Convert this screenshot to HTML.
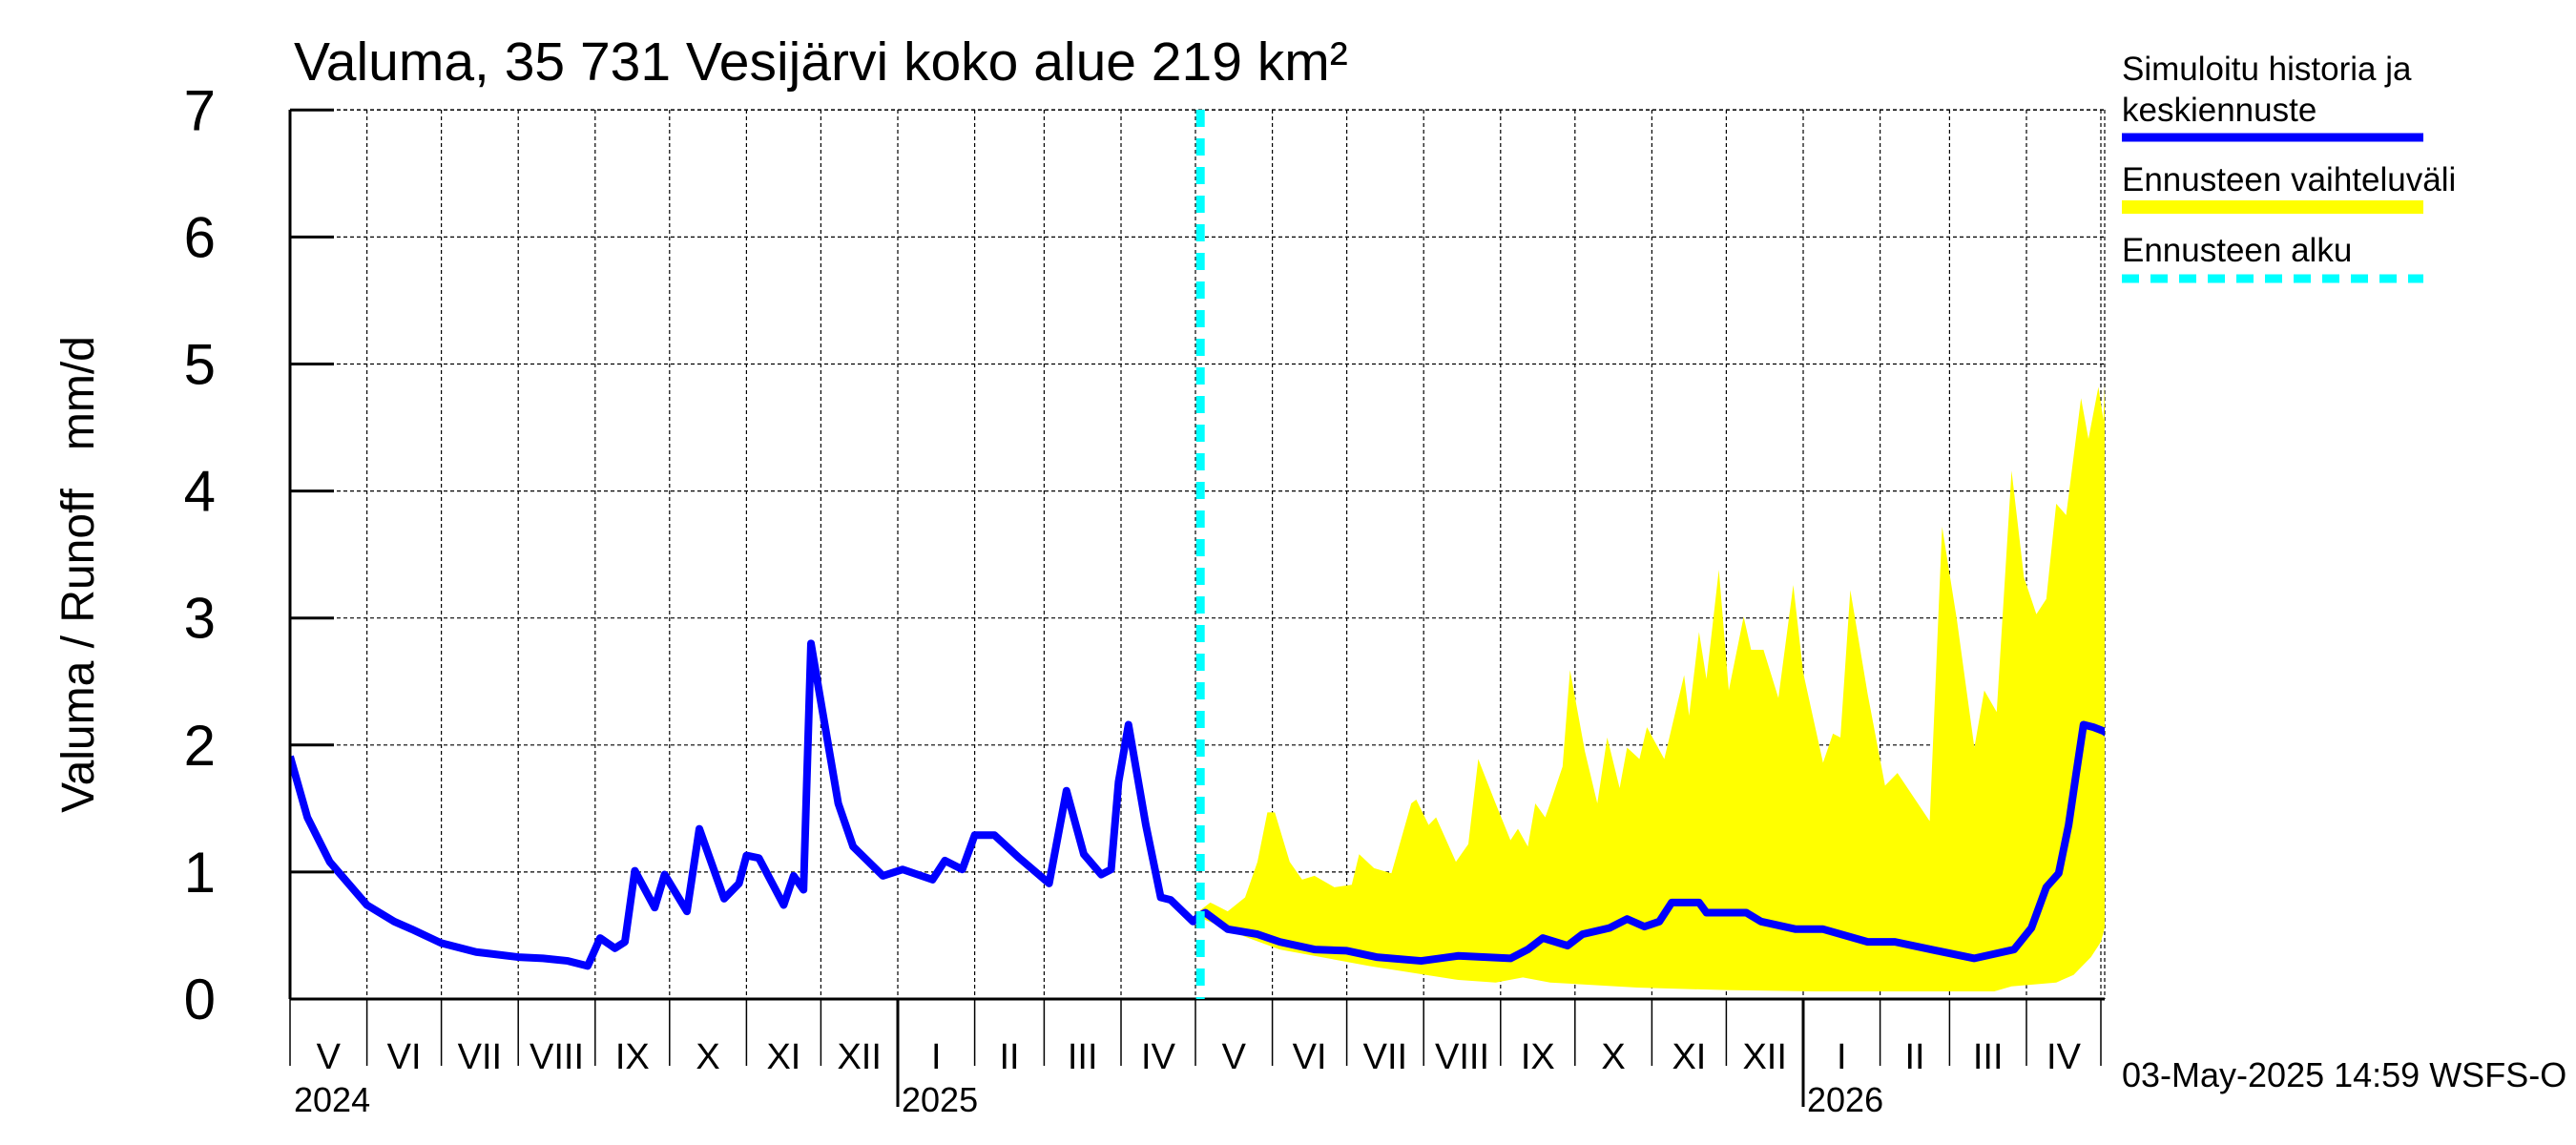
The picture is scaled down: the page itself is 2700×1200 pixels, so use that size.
<!DOCTYPE html>
<html><head><meta charset="utf-8"><style>
html,body{margin:0;padding:0;background:#fff;}
svg{display:block;font-family:"Liberation Sans",sans-serif;}
</style></head><body>
<svg id="chart" width="2700" height="1200" viewBox="0 0 2700 1200" xmlns="http://www.w3.org/2000/svg">
<defs><clipPath id="pc"><rect x="304" y="115" width="1902" height="932"/></clipPath></defs>
<g id="grid"></g>
<g id="band" clip-path="url(#pc)"></g>
<g id="lines" clip-path="url(#pc)"></g>
<g id="axes"></g>
<text x="308" y="84" font-size="57">Valuma, 35 731 Vesijärvi koko alue 219 km²</text>
<text transform="translate(98,602) rotate(-90)" text-anchor="middle" font-size="48" xml:space="preserve">Valuma / Runoff   mm/d</text>
<g font-size="35">
<text x="2224" y="84">Simuloitu historia ja</text>
<text x="2224" y="127">keskiennuste</text>
<line x1="2224" y1="144" x2="2540" y2="144" stroke="#0000ff" stroke-width="9"/>
<text x="2224" y="200">Ennusteen vaihteluväli</text>
<line x1="2224" y1="217" x2="2540" y2="217" stroke="#ffff00" stroke-width="14"/>
<text x="2224" y="274">Ennusteen alku</text>
<line x1="2224" y1="292" x2="2540" y2="292" stroke="#00ffff" stroke-width="9" stroke-dasharray="18,12"/>
</g>
<text x="2224" y="1139" font-size="36">03-May-2025 14:59 WSFS-O</text>
</svg>
<script>
const histDays=[0,7,16,31,42,49,61,75,92,102,112,120,125,131,135,139,147,151,160,165,175,181,184,189,199,203,207,210,214,221,227,239,247,259,264,271,276,284,294,306,313,320,327,331,334,338,345,351,355,364,367];
const histVals=[1.91,1.43,1.08,0.74,0.61,0.55,0.44,0.37,0.33,0.32,0.30,0.26,0.48,0.40,0.45,1.01,0.72,0.98,0.69,1.34,0.79,0.91,1.13,1.11,0.74,0.97,0.86,2.80,2.34,1.54,1.20,0.97,1.02,0.94,1.09,1.02,1.29,1.29,1.11,0.91,1.64,1.14,0.98,1.02,1.71,2.16,1.37,0.80,0.78,0.61,0.66];
const fcDays=[367,369,378,390,399,413,426,438,456,471,492,499,505,515,521,532,539,546,552,557,568,571,587,593,607,618,636,647,664,679,695,702,708,713,717,720,723,727,731,735];
const fcVals=[0.66,0.68,0.55,0.51,0.45,0.39,0.38,0.33,0.30,0.34,0.32,0.39,0.48,0.42,0.51,0.56,0.63,0.57,0.61,0.76,0.76,0.68,0.68,0.61,0.55,0.55,0.45,0.45,0.38,0.32,0.39,0.56,0.88,0.99,1.37,1.77,2.16,2.14,2.11,2.06];
const upDays=[367,371,378,385,390,394,397,403,408,413,421,428,431,437,444,452,454,459,462,470,475,479,486,492,495,499,502,506,508,513,516,522,527,531,536,539,544,547,554,562,564,568,571,576,580,586,589,594,600,606,610,618,622,625,629,636,643,648,661,666,672,679,683,688,694,699,704,708,712,716,722,725,729,731,734,736];
const upVals=[0.70,0.76,0.69,0.80,1.08,1.47,1.47,1.08,0.94,0.97,0.88,0.90,1.14,1.03,0.99,1.54,1.57,1.37,1.43,1.08,1.22,1.89,1.54,1.25,1.34,1.20,1.54,1.43,1.54,1.83,2.59,1.95,1.54,2.06,1.66,1.98,1.89,2.14,1.89,2.55,2.23,2.89,2.52,3.38,2.43,3.01,2.75,2.75,2.37,3.26,2.57,1.86,2.09,2.06,3.22,2.40,1.68,1.78,1.40,3.72,2.98,1.98,2.43,2.26,4.16,3.32,3.03,3.15,3.90,3.81,4.73,4.41,4.82,4.56,6.14,6.7];
const loDays=[367,385,399,435,471,486,497,508,543,579,615,651,687,694,712,719,726,730,734,736];
const loVals=[0.64,0.49,0.39,0.26,0.15,0.13,0.17,0.13,0.09,0.07,0.06,0.06,0.06,0.10,0.13,0.19,0.33,0.45,0.74,0.9];
const yTicks=[0,1,2,3,4,5,6,7];
const monthLabels=["I","II","III","IV","V","VI","VII","VIII","IX","X","XI","XII"];
const forecastStartDay=367;

const NS="http://www.w3.org/2000/svg";
const X0=304,Y0=1047,PXD=2.6,PXU=133.1,XR=2206,YT=115;
const xS=d=>X0+d*PXD, yS=v=>Y0-v*PXU;
const t0=Date.UTC(2024,4,1);
function mk(tag,attrs,parent){const e=document.createElementNS(NS,tag);for(const k in attrs)e.setAttribute(k,attrs[k]);parent.appendChild(e);return e;}
const grid=document.getElementById('grid'),axes=document.getElementById('axes'),band=document.getElementById('band'),lines=document.getElementById('lines');

yTicks.forEach(v=>{
  const y=yS(v);
  if(v>0){const l=mk('line',{x1:X0,y1:y,x2:XR,y2:y,stroke:'#000','stroke-width':1.2,'stroke-dasharray':'4,3'},grid);
    
    
    const tk=mk('line',{x1:X0,y1:y,x2:X0+46,y2:y,stroke:'#000','stroke-width':3},axes);
    
    }
  const t=mk('text',{x:226,y:y+21,'text-anchor':'end','font-size':60},axes);
  t.textContent=v;
  
  
});
const rb=mk('line',{x1:XR,y1:YT,x2:XR,y2:Y0,stroke:'#000','stroke-width':1.2,'stroke-dasharray':'4,3'},grid);



for(let i=0;i<=24;i++){
  const y=2024+Math.floor((4+i)/12),m=(4+i)%12;
  const d=(Date.UTC(y,m,1)-t0)/86400000;
  const dn=(Date.UTC(2024+Math.floor((5+i)/12),(5+i)%12,1)-t0)/86400000;
  const x=xS(d);
  if(i>0){const g=mk('line',{x1:x,y1:YT,x2:x,y2:Y0,stroke:'#000','stroke-width':1.2,'stroke-dasharray':'4,3'},grid);
    
    }
  const tk=mk('line',{x1:x,y1:Y0,x2:x,y2:m===0?1160:1117,stroke:'#000','stroke-width':m===0?3:1.5},axes);
  
  
  if(i<24){const lbl=mk('text',{x:(x+xS(Math.min(dn,732)))/2,y:1120,'text-anchor':'middle','font-size':38},axes);
    lbl.textContent=monthLabels[m];
    
    }
  if(m===0||i===0){const yl=mk('text',{x:x+4,y:1165,'font-size':36},axes);
    yl.textContent=String(y);
    
    }
}
let p='M'+xS(upDays[0])+','+yS(upVals[0]);
for(let i=1;i<upDays.length;i++)p+='L'+xS(upDays[i])+','+yS(upVals[i]);
for(let i=loDays.length-1;i>=0;i--)p+='L'+xS(loDays[i])+','+yS(loVals[i]);
const bp=mk('path',{d:p+'Z',fill:'#ffff00'},band);


function line(ds,vs,name){const pts=ds.map((d,i)=>xS(d)+','+yS(vs[i])).join(' ');
  const l=mk('polyline',{points:pts,fill:'none',stroke:'#0000ff','stroke-width':8,'stroke-linejoin':'round'},lines);
  
  }
line(histDays,histVals,'simulated-history-line');
line(fcDays,fcVals,'median-forecast-line');
const la=mk('line',{x1:X0,y1:YT,x2:X0,y2:Y0,stroke:'#000','stroke-width':3},axes);


const ba=mk('line',{x1:X0,y1:Y0,x2:XR,y2:Y0,stroke:'#000','stroke-width':3},axes);


const tb=mk('line',{x1:X0,y1:YT,x2:XR,y2:YT,stroke:'#000','stroke-width':1.2,'stroke-dasharray':'4,3'},grid);


const fs=mk('line',{x1:xS(forecastStartDay),y1:YT,x2:xS(forecastStartDay),y2:Y0,stroke:'#00ffff','stroke-width':9,'stroke-dasharray':'18,12'},axes);


</script>
</body></html>
